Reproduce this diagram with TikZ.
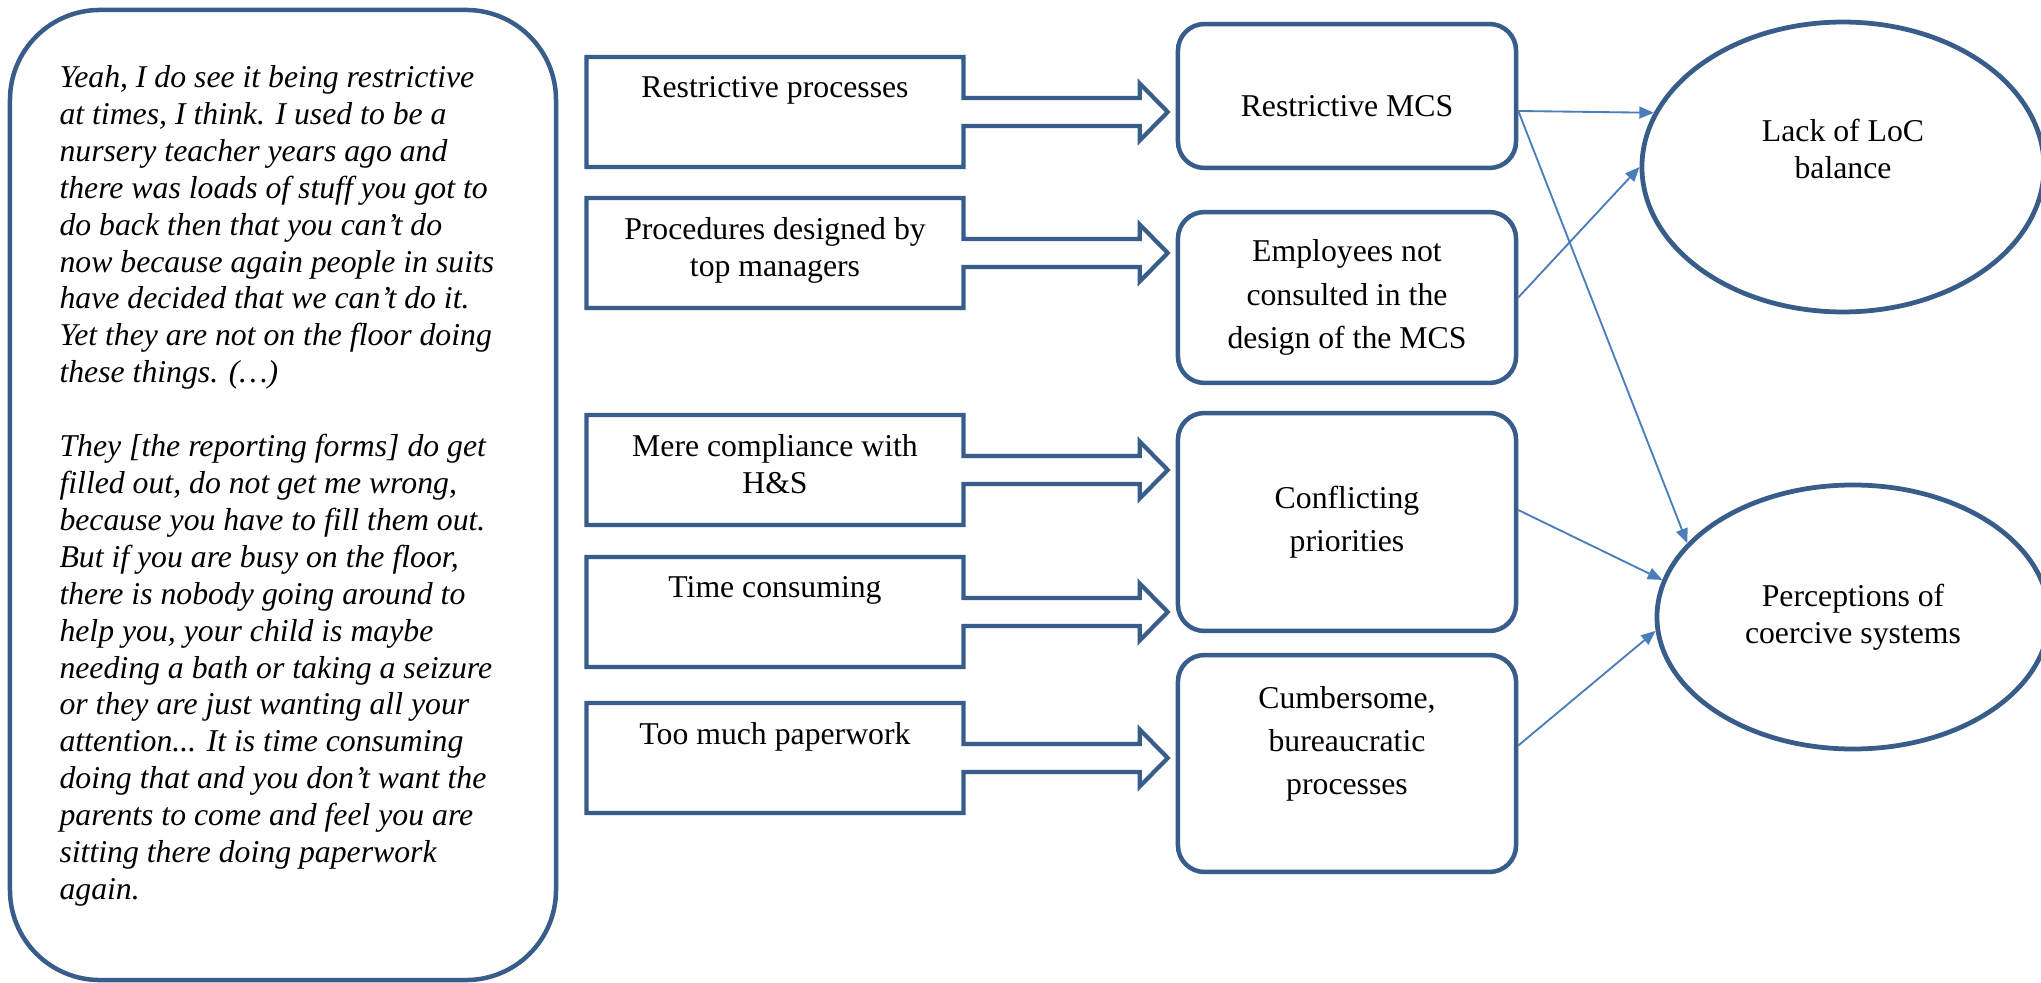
\documentclass[tikz,border=0pt]{standalone}
\usepackage{fontspec}
\setmainfont{Liberation Serif}
\usepackage{xcolor}
\usepackage{tikz}
\usetikzlibrary{arrows.meta,positioning,calc,shapes}
\definecolor{boxblue}{RGB}{56,93,138}
\definecolor{lineblue}{RGB}{74,126,187}
\newcommand{\cotext}[1]{\parbox[c][41.6pt][t]{142.5pt}{\centering\vspace*{7.5pt}#1}}
\newcommand{\liftlines}[2]{\raisebox{#1}[\height][\depth]{\begin{tabular}{@{}c@{}}#2\end{tabular}}}

\begin{document}
\begin{tikzpicture}[
  x=0.378pt, y=-0.378pt,
  quotebox/.style={rectangle,draw=boxblue,line width=1.7pt,rounded corners=34pt,
                   minimum width=206.4pt,minimum height=366.7pt},
  quotetext/.style={inner sep=0pt,align=left,font=\itshape\fontsize{12}{13.95}\selectfont},
  callout/.style={arrow box,draw=boxblue,line width=1.6pt,inner sep=0pt,
                  minimum width=142.5pt,minimum height=41.6pt,
                  arrow box arrows={east:76.4pt},arrow box shaft width=10.6pt,
                  arrow box head extend=5.5pt,arrow box tip angle=91,
                  font=\fontsize{12}{14}\selectfont},
  mcs/.style={rectangle,draw=boxblue,line width=1.7pt,rounded corners=10pt,
              minimum width=127.8pt,inner sep=0pt,align=center,
              font=\fontsize{12}{16.3}\selectfont},
  outcome/.style={ellipse,draw=boxblue,line width=1.8pt,inner sep=0pt,align=center,
                  font=\fontsize{12}{14}\selectfont},
  arr/.style={draw=lineblue,line width=0.7pt,-{Triangle[length=5.5pt,width=4.5pt]}}
]
  \path[use as bounding box,fill=white] (0,0) rectangle (2041,983);

  \node[quotebox] (quote) at (283,495) {};
  \node[quotetext,anchor=north west] (qtxt) at (59,65)
    {Yeah, I do see it being restrictive\\
     at times, I think. I used to be a\\
     nursery teacher years ago and\\
     there was loads of stuff you got to\\
     do back then that you can’t do\\
     now because again people in suits\\
     have decided that we can’t do it.\\
     Yet they are not on the floor doing\\
     these things. (…)\\[13.95pt]
     They [the reporting forms] do get\\
     filled out, do not get me wrong,\\
     because you have to fill them out.\\
     But if you are busy on the floor,\\
     there is nobody going around to\\
     help you, your child is maybe\\
     needing a bath or taking a seizure\\
     or they are just wanting all your\\
     attention... It is time consuming\\
     doing that and you don’t want the\\
     parents to come and feel you are\\
     sitting there doing paperwork\\
     again.};

  \node[callout] (c1) at (775,112) {\cotext{Restrictive processes}};
  \node[callout] (c2) at (775,253) {\cotext{Procedures designed by\\top managers}};
  \node[callout] (c3) at (775,470) {\cotext{Mere compliance with\\H\&S}};
  \node[callout] (c4) at (775,612) {\cotext{Time consuming}};
  \node[callout] (c5) at (775,758) {\cotext{Too much paperwork}};

  \node[mcs,minimum height=54.4pt] (b1) at (1347,96) {\liftlines{-4.5pt}{Restrictive MCS}};
  \node[mcs,minimum height=64.6pt] (b2) at (1347,297.5) {Employees not\\consulted in the\\design of the MCS};
  \node[mcs,minimum height=82.4pt] (b3) at (1347,522) {Conflicting\\priorities};
  \node[mcs,minimum height=82pt] (b4) at (1347,763.5) {\liftlines{7.7pt}{Cumbersome,\\bureaucratic\\processes}};

  \node[outcome,minimum width=152pt,minimum height=109.6pt] (e1) at (1843,167)
    {\liftlines{5.3pt}{Lack of LoC\\balance}};
  \node[outcome,minimum width=148.2pt,minimum height=99.8pt] (e2) at (1853,617)
    {Perceptions of\\coercive systems};

  \draw[arr] (b1.-5) -- (e1.164);
  \draw[arr] (b1.-5) -- (e2.156);
  \draw[arr] (b2.east) -- (e1.west);
  \draw[arr] (b3.4) -- (e2.169);
  \draw[arr] (b4.6) -- (e2.184);
\end{tikzpicture}
\end{document}
